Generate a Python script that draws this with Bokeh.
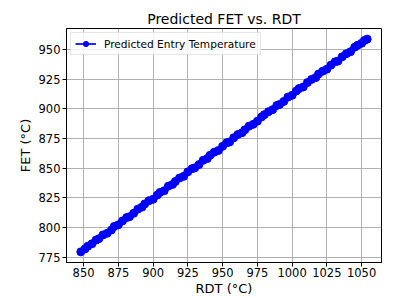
from bokeh.plotting import figure
from bokeh.models import Range1d, FixedTicker
from bokeh.embed import file_html
from bokeh.resources import INLINE

rdt = [848, 851, 853, 856, 859, 861, 864, 867, 870, 872, 875, 878, 881, 883, 886, 889,
       892, 894, 897, 900, 903, 905, 908, 911, 914, 916, 919, 922, 925, 928, 930, 933,
       936, 939, 941, 944, 947, 950, 953, 955, 958, 961, 964, 966, 969, 972, 975, 978,
       980, 983, 986, 989, 991, 994, 997, 1000, 1003, 1005, 1008, 1011, 1014, 1017, 1019,
       1022, 1025, 1028, 1031, 1033, 1036, 1039, 1042, 1045, 1047, 1050, 1052, 1054]
fet = [779.5, 782.0, 784.2, 786.3, 789.4, 790.6, 793.8, 795.2, 797.9, 800.9, 802.3, 805.6,
       808.4, 809.1, 812.0, 815.5, 817.2, 819.9, 822.6, 823.8, 827.3, 829.6, 831.0, 834.9,
       836.3, 838.8, 841.7, 843.1, 846.9, 849.6, 850.3, 853.0, 856.6, 858.1, 860.9, 863.5,
       864.9, 868.4, 871.5, 872.0, 875.6, 878.4, 879.9, 882.3, 885.4, 886.9, 889.6, 893.2,
       895.1, 897.6, 899.3, 902.8, 903.7, 906.2, 909.9, 911.4, 915.0, 917.1, 918.4, 922.1,
       924.8, 926.3, 929.3, 931.7, 933.4, 936.9, 939.6, 940.2, 943.8, 946.4, 948.1, 951.9,
       953.5, 955.2, 957.6, 958.7]
x_ticks = [850, 875, 900, 925, 950, 975, 1000, 1025, 1050]
y_ticks = [775, 800, 825, 850, 875, 900, 925, 950]

title = "Predicted FET vs. RDT"
x_label = "RDT (°C)"
y_label = "FET (°C)"
series_label = "Predicted Entry Temperature"

FONT = "DejaVu Sans"

def padded(lo, hi, frac=0.05):
    d = (hi - lo) * frac
    return lo - d, hi + d

x0, x1 = padded(min(rdt), max(rdt))
y0, y1 = padded(min(fet), max(fet))

p = figure(width=403, height=298, output_backend="svg", toolbar_location=None,
           x_range=Range1d(x0, x1), y_range=Range1d(y0, y1),
           min_border_left=66, min_border_right=22, min_border_top=28, min_border_bottom=36)

p.title.text = title
p.title.align = "center"
p.title.text_font = FONT
p.title.text_font_size = "14px"
p.title.text_font_style = "normal"
p.title.text_color = "black"
p.title.standoff = 3

p.outline_line_color = "black"
p.outline_line_width = 1
p.outline_line_alpha = 1

for ax, ticks, lab in ((p.xaxis[0], x_ticks, x_label), (p.yaxis[0], y_ticks, y_label)):
    ax.ticker = FixedTicker(ticks=ticks)
    ax.minor_tick_line_color = None
    ax.major_tick_in = 0
    ax.major_tick_out = 4
    ax.major_tick_line_color = "black"
    ax.axis_line_color = "black"
    ax.major_label_text_font = FONT
    ax.major_label_text_font_size = "11.5px"
    ax.major_label_text_color = "black"
    ax.axis_label = lab
    ax.axis_label_text_font = FONT
    ax.axis_label_text_font_size = "13px"
    ax.axis_label_text_font_style = "normal"
    ax.axis_label_text_color = "black"

p.xaxis.major_label_standoff = 1
p.xaxis.axis_label_standoff = 1
p.yaxis.major_label_standoff = 2
p.yaxis.axis_label_standoff = 3

p.grid.grid_line_color = "#b0b0b0"
p.grid.grid_line_width = 1

p.line(rdt, fet, line_color="blue", line_width=1.7, legend_label=series_label)
p.scatter(rdt, fet, size=8, fill_color="blue", line_color="blue", legend_label=series_label)

lg = p.legend[0]
lg.location = "top_left"
lg.margin = 4
lg.padding = 4
lg.spacing = 0
lg.glyph_width = 21
lg.glyph_height = 13
lg.label_height = 13
lg.label_standoff = 8
lg.label_text_font = FONT
lg.label_text_font_size = "10.6px"
lg.label_text_color = "black"
lg.border_line_color = "#cccccc"
lg.border_line_width = 1
lg.background_fill_alpha = 0.8

open("out.html", "w").write(file_html(p, INLINE))
